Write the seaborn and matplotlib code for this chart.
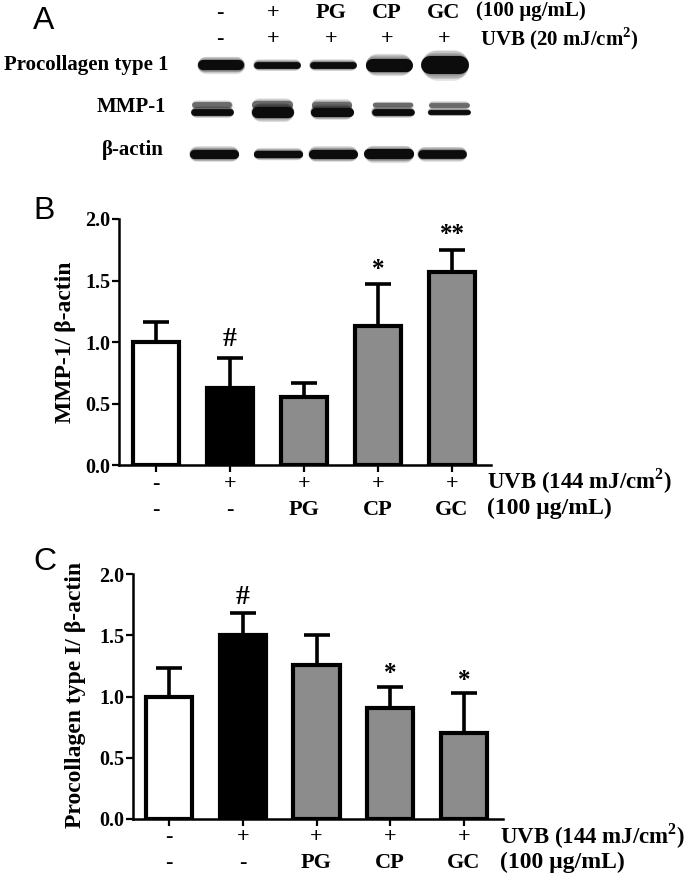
"""Western blot and densitometry bars: MMP-1 and procollagen type I under UVB."""

import matplotlib
matplotlib.use("Agg")
import matplotlib.pyplot as plt
import pandas as pd
import seaborn as sns

WIDTH, HEIGHT = 688, 875

groups = ["ctrl", "UVB", "PG", "CP", "GC"]
bar_colors = ["#ffffff", "#000000", "#8c8c8c", "#8c8c8c", "#8c8c8c"]

mmp1_mean = [1.00, 0.63, 0.55, 1.13, 1.57]
mmp1_top = [1.16, 0.87, 0.67, 1.47, 1.75]
mmp1_marks = ["", "#", "", "*", "**"]

procollagen_mean = [1.00, 1.50, 1.26, 0.91, 0.70]
procollagen_top = [1.23, 1.68, 1.50, 1.08, 1.03]
procollagen_marks = ["", "#", "", "*", "*"]

uvb_row = ["-", "+", "+", "+", "+"]
extract_row = ["-", "-", "PG", "CP", "GC"]
blot_extract_row = ["-", "+", "PG", "CP", "GC"]
blot_uvb_row = ["-", "+", "+", "+", "+"]
y_ticks = [0.0, 0.5, 1.0, 1.5, 2.0]

band_procollagen = [1.05, 0.70, 0.70, 1.35, 1.85]
band_mmp1_upper = [0.60, 0.85, 0.75, 0.45, 0.50]
band_mmp1_lower = [0.70, 1.15, 0.95, 0.70, 0.50]
band_actin = [0.95, 0.75, 0.95, 1.05, 0.90]

sns.set_theme(style="white")
plt.rcParams.update({
    "font.family": ["Liberation Serif", "DejaVu Serif"],
    "font.weight": "bold",
    "mathtext.fontset": "custom",
    "mathtext.bf": "Liberation Serif:bold",
    "mathtext.rm": "Liberation Serif:bold",
    "text.color": "black",
    "axes.labelcolor": "black",
    "xtick.color": "black",
    "ytick.color": "black",
})

PX = 72 / 100  # points per pixel at dpi 100
LANE_PX = 56
MMP1_SHIFT = [-0.16, -0.08, -0.02, 0.07, 0.07]
ACTIN_SHIFT = [-0.12, 0.02, 0.0, 0.0, -0.05]


def axes_px(fig, left, top, right, bottom):
    return fig.add_axes([
        left / WIDTH, 1 - bottom / HEIGHT,
        (right - left) / WIDTH, (bottom - top) / HEIGHT,
    ])


def text_px(fig, x, y, label, **kwargs):
    kwargs.setdefault("va", "center")
    kwargs.setdefault("fontsize", 15)
    fig.text(x / WIDTH, 1 - y / HEIGHT, label, **kwargs)


def draw_bars(ax, means, tops, marks, row_gap, mark_shift=0):
    data = pd.DataFrame({"group": groups, "mean": means})
    sns.barplot(
        data=data, x="group", y="mean", hue="group", palette=bar_colors,
        legend=False, width=0.63, edgecolor="black", linewidth=3.0,
        saturation=1, ax=ax,
    )
    for i, (mean, top, mark) in enumerate(zip(means, tops, marks)):
        ax.errorbar(
            i, mean, yerr=[[0], [top - mean]], color="black", elinewidth=2.6,
            capsize=9.5, capthick=2.6, zorder=0.5,
        )
        if mark:
            offset = (13 if mark == "#" else 6) + mark_shift
            size = 20 if mark == "#" else 18
            ax.annotate(
                mark, (i, top), xytext=(0, offset), textcoords="offset points",
                ha="center", va="center" if mark == "#" else "baseline", fontsize=size,
            )
    ax.set_ylim(0, 2.0)
    ax.set_yticks(y_ticks)
    ax.set_yticklabels([f"{t:.1f}" for t in y_ticks], fontsize=14.5)
    ax.set_xticks(range(len(groups)))
    ax.set_xticklabels([])
    ax.set_xlabel("")
    ax.set_ylabel("")
    ax.tick_params(left=True, bottom=True, length=5, width=1.6, pad=1)
    sns.despine(ax=ax)
    for side in ("left", "bottom"):
        ax.spines[side].set_linewidth(1.8)
        ax.spines[side].set_color("black")
    for i, (first, second) in enumerate(zip(uvb_row, extract_row)):
        for label, gap in ((first, row_gap[0]), (second, row_gap[1])):
            ax.annotate(
                label, (i, 0), xycoords=ax.get_xaxis_transform(),
                xytext=(0, -gap * PX), textcoords="offset points",
                ha="center", va="center", fontsize=16,
            )


def draw_band(ax, lane, row, strength, half_length, shade="#0c0c0c"):
    # stacked translucent strokes give the soft edge of a scanned band
    width = strength * 7.0
    for scale in (1.7, 1.55, 1.4, 1.25, 1.12):
        lw = width * scale
        reach = half_length - (lw / PX / 2) / LANE_PX
        ax.plot(
            [lane - reach, lane + reach], [row, row], color=shade, alpha=0.12,
            solid_capstyle="round", linewidth=lw,
        )
    reach = half_length - (width / PX / 2) / LANE_PX
    ax.plot(
        [lane - reach, lane + reach], [row, row], color=shade,
        solid_capstyle="round", linewidth=width,
    )


fig = plt.figure(figsize=(WIDTH / 100, HEIGHT / 100), dpi=100)

# panel A
blot = axes_px(fig, 165, 45, 501, 175)
blot.set_xlim((165 - 221) / LANE_PX, (501 - 221) / LANE_PX)
blot.set_ylim((175 - 65) / 44.5, (45 - 65) / 44.5)
blot.axis("off")
for lane in range(5):
    draw_band(blot, lane, 0, band_procollagen[lane], 0.42)
    draw_band(blot, lane + MMP1_SHIFT[lane], 0.91, band_mmp1_upper[lane], 0.36, "#6a6a6a")
    draw_band(blot, lane + MMP1_SHIFT[lane], 1.06, band_mmp1_lower[lane], 0.38)
    draw_band(blot, lane + ACTIN_SHIFT[lane], 2.0, band_actin[lane], 0.44)

for x, first, second in zip([220, 273, 331, 387, 444], blot_extract_row, blot_uvb_row):
    text_px(fig, x, 13, first, ha="center", fontsize=16)
    text_px(fig, x, 39, second, ha="center", fontsize=16)
text_px(fig, 476, 11, "(100 µg/mL)")
text_px(fig, 480, 39, r"UVB (20 mJ/cm$^{\mathbf{2}}$)")
text_px(fig, 168, 65, "Procollagen type 1", ha="right")
text_px(fig, 166, 107, "MMP-1", ha="right")
text_px(fig, 164, 150, "β-actin", ha="right")

# panel B
ax_b = axes_px(fig, 119, 219, 491, 465)
draw_bars(ax_b, mmp1_mean, mmp1_top, mmp1_marks, (19, 45))
ax_b.set_xlim(-0.5, 4.527)
text_px(fig, 65, 342, "MMP-1/ β-actin", rotation=90, ha="center", fontsize=17)
text_px(fig, 487, 481, r"UVB (144 mJ/cm$^{\mathbf{2}}$)", fontsize=16.5)
text_px(fig, 487, 508, "(100 µg/mL)", fontsize=17)

# panel C
ax_c = axes_px(fig, 133, 574, 503, 819)
draw_bars(ax_c, procollagen_mean, procollagen_top, procollagen_marks, (18, 44), mark_shift=-1.5)
ax_c.set_xlim(-0.49, 4.53)
text_px(fig, 76, 695, "Procollagen type I/ β-actin", rotation=90, ha="center", fontsize=17)
text_px(fig, 500, 836, r"UVB (144 mJ/cm$^{\mathbf{2}}$)", fontsize=16.5)
text_px(fig, 500, 862, "(100 µg/mL)", fontsize=17)

for x, y, letter in [(33, 21, "A"), (33, 211, "B"), (33, 562, "C")]:
    text_px(fig, x, y, letter, family="Liberation Sans", fontweight="normal", fontsize=23, ha="left")

fig.savefig("out.png", dpi=100)
plt.close(fig)
